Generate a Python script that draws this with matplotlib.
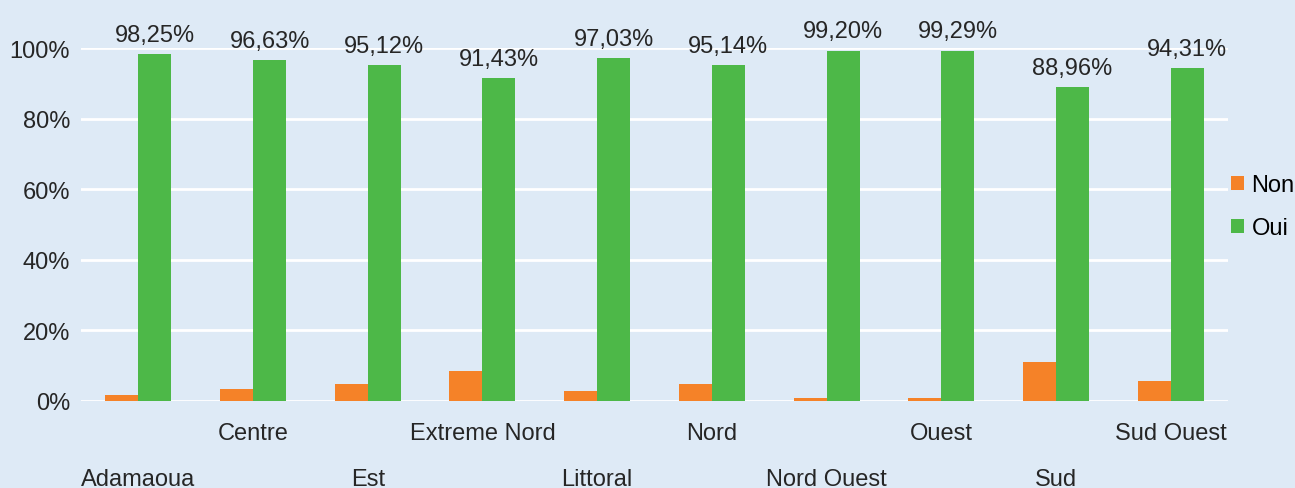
import matplotlib.pyplot as plt
from matplotlib.ticker import FuncFormatter
import numpy as np

plt.rcParams["font.family"] = ["Liberation Sans", "DejaVu Sans"]

regions = ["Adamaoua", "Centre", "Est", "Extreme Nord", "Littoral",
           "Nord", "Nord Ouest", "Ouest", "Sud", "Sud Ouest"]
oui = [98.25, 96.63, 95.12, 91.43, 97.03, 95.14, 99.20, 99.29, 88.96, 94.31]
non = [1.75, 3.37, 4.88, 8.57, 2.97, 4.86, 0.80, 0.71, 11.04, 5.69]

bg = "#DEEAF6"
c_non = "#F58228"
c_oui = "#4DB848"
txt = "#262626"

fig = plt.figure(figsize=(12.95, 4.89), dpi=100, facecolor=bg)
ax = fig.add_axes([81 / 1295, 87 / 489, 1147 / 1295, 353 / 489])
ax.set_facecolor(bg)

x = np.arange(len(regions))
w = 0.288
ax.bar(x - w / 2, np.array(non) / 100, w, color=c_non, label="Non", zorder=3)
bars = ax.bar(x + w / 2, np.array(oui) / 100, w, color=c_oui, label="Oui", zorder=3)

for b, v in zip(bars, oui):
    ax.annotate(f"{v:.2f}%".replace(".", ","),
                (b.get_x() + b.get_width() / 2, b.get_height()),
                xytext=(0, 6), textcoords="offset points",
                ha="center", va="bottom", fontsize=17, color=txt,
                annotation_clip=False)

ax.set_xlim(-0.5, len(regions) - 0.5)
ax.set_ylim(0, 1)
ax.set_yticks(np.arange(0, 1.01, 0.2))
ax.yaxis.set_major_formatter(FuncFormatter(lambda v, p: f"{v * 100:.0f}%"))
ax.grid(axis="y", color="white", linewidth=2, zorder=0)
ax.set_axisbelow(True)

# staggered category labels
ax.set_xticks(x[1::2])
ax.set_xticklabels(regions[1::2])
ax.set_xticks(x[0::2], minor=True)
ax.set_xticklabels(regions[0::2], minor=True)
ax.tick_params(axis="x", which="major", length=0, pad=15, labelsize=17, labelcolor=txt)
ax.tick_params(axis="x", which="minor", length=0, pad=48, labelsize=17, labelcolor=txt)
ax.tick_params(axis="y", length=0, pad=8, labelsize=17, labelcolor=txt)

for s in ax.spines.values():
    s.set_visible(False)

ax.legend(loc="center left", bbox_to_anchor=(1.003, 0.55), frameon=False,
          fontsize=17, handlelength=0.55, handleheight=0.55, handletextpad=0.3,
          labelspacing=0.88, borderaxespad=0, borderpad=0)

fig.savefig("out.png", dpi=100, facecolor=bg)
